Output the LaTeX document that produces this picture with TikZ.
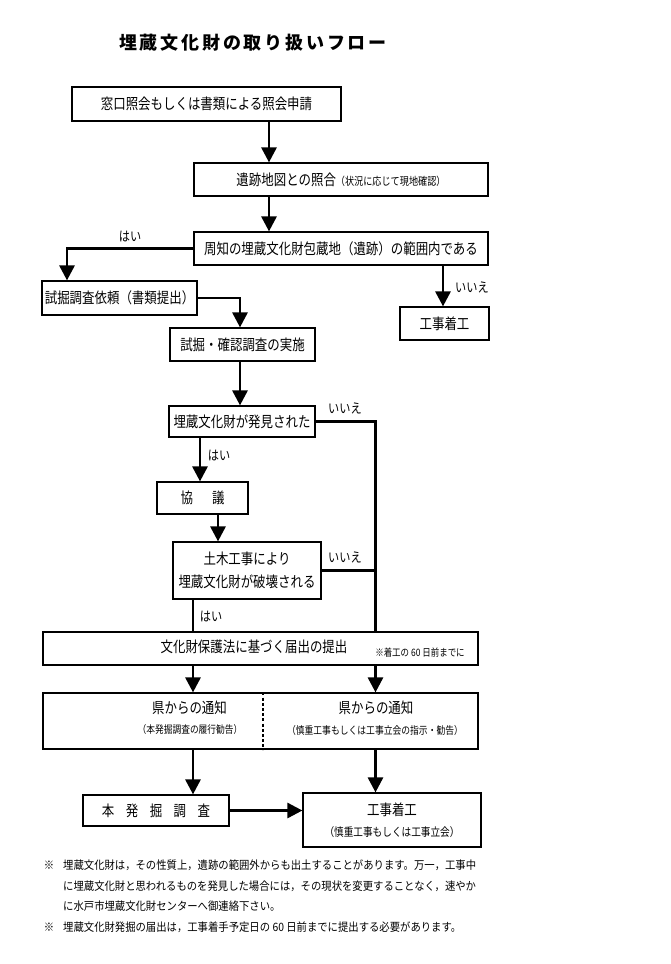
\documentclass[tikz,border=0pt]{standalone}
\usepackage{fontspec}
\setmainfont{Noto Sans CJK JP}[FakeStretch=0.83]
\newfontfamily\notefont{Noto Sans CJK JP}[FakeStretch=0.9]
\newfontfamily\headfont{Noto Sans CJK JP}
\usetikzlibrary{arrows.meta}
\newcommand\fmain{\fontsize{15}{17}\selectfont}
\newcommand\fsmall{\fontsize{11}{13}\selectfont}
\newcommand\fnote{\notefont\fontsize{11.5}{13}\selectfont}
\newcommand\flabel{\fontsize{13.5}{15}\selectfont}
\newcommand\ftitle{\headfont\fontsize{18}{20}\selectfont\bfseries}
\newcommand\tgap{\kern2.8pt}
\begin{document}
\begin{tikzpicture}[x=1pt,y=-1pt,
  box/.style={draw, line width=1.2pt, inner sep=0pt, align=center, font=\fmain},
  conn/.style={line width=2.8pt, line join=miter},
  arr/.style={conn, -{Triangle[width=15pt,length=15pt]}},
  lbl/.style={inner sep=0pt, font=\flabel},
  txt/.style={inner sep=0pt, align=center},
  note/.style={inner sep=0pt, anchor=west, font=\fnote}
]
\useasboundingbox (0,0) rectangle (670,964);
\fill[white] (0,0) rectangle (670,964);

% title
\node[txt, font=\ftitle] (title) at (253,43) {埋\tgap 蔵\tgap 文\tgap 化\tgap 財\tgap の\tgap 取\tgap り\tgap 扱\tgap い\tgap フ\tgap ロ\tgap ー};

% lanes
\coordinate (xa) at (269,0);
\coordinate (xb) at (67,0);
\coordinate (xc) at (443,0);
\coordinate (xd) at (240,0);
\coordinate (xe) at (375.5,0);
\coordinate (xf) at (200,0);
\coordinate (xg) at (218,0);
\coordinate (xh) at (193,0);
\coordinate (xdiv) at (263,0);

% boxes
\node[box, minimum width=269pt, minimum height=34pt] (b1) at (206.5,104) {窓口照会もしくは書類による照会申請};
\node[box, minimum width=294pt, minimum height=33pt] (b2) at (341,179.5) {遺跡地図との照合{\fsmall（状況に応じて現地確認）}};
\node[box, minimum width=294pt, minimum height=33pt] (b3) at (341,248.5) {周知の埋蔵文化財包蔵地（遺跡）の範囲内である};
\node[box, minimum width=155pt, minimum height=34pt] (b4) at (119.5,298) {試掘調査依頼（書類提出）};
\node[box, minimum width=89pt, minimum height=33pt] (bn) at (444.5,323.5) {工事着工};
\node[box, minimum width=145pt, minimum height=33pt] (b5) at (242.5,344.5) {試掘・確認調査の実施};
\node[box, minimum width=146pt, minimum height=31pt] (b6) at (242,421.5) {埋蔵文化財が発見された};
\node[box, minimum width=91pt, minimum height=32pt] (b7) at (202.5,498) {協\hspace{19pt}議};
\node[box, minimum width=148pt, minimum height=57pt, font=\fontsize{15}{23}\selectfont] (b8) at (247,570.5) {土木工事により\\埋蔵文化財が破壊される};
\node[box, minimum width=435pt, minimum height=33pt] (b9) at (260.5,648.5) {};
\node[box, minimum width=435pt, minimum height=56pt] (b10) at (260.5,721) {};
\node[box, minimum width=146pt, minimum height=31pt] (b11) at (156,810.5) {本\hspace{11.5pt}発\hspace{11.5pt}掘\hspace{11.5pt}調\hspace{11.5pt}査};
\node[box, minimum width=178pt, minimum height=54pt, font=\fontsize{15}{21}\selectfont] (b12) at (392,820) {工事着工\\{\fontsize{11.6}{13}\selectfont（慎重工事もしくは工事立会）}};

% texts inside b9, b10
\node[txt, font=\fmain] (t9) at (254,647) {文化財保護法に基づく届出の提出};
\node[txt, font=\fontsize{10.2}{12}\selectfont] (t9n) at (420,653) {※着工の 60 日前までに};
\node[txt, font=\fmain] (t10a) at (189.5,708) {県からの通知};
\node[txt, font=\fontsize{10.5}{12}\selectfont] (t10b) at (190,730) {（本発掘調査の履行勧告）};
\node[txt, font=\fmain] (t10c) at (376,708) {県からの通知};
\node[txt, font=\fontsize{10.6}{12}\selectfont] (t10d) at (375,730) {（慎重工事もしくは工事立会の指示・勧告）};
\draw[line width=1.2pt, dash pattern=on 3pt off 2.2pt] (b10.north -| xdiv) -- (b10.south -| xdiv);

% labels
\node[lbl] (l1) at (130,237) {はい};
\node[lbl] (l2) at (472,287) {いいえ};
\node[lbl] (l3) at (345,408) {いいえ};
\node[lbl] (l4) at (219,456) {はい};
\node[lbl] (l5) at (345,557) {いいえ};
\node[lbl] (l6) at (211,617) {はい};

% connectors
\draw[arr] (b1.south -| xa) -- (b2.north -| xa);
\draw[arr] (b2.south -| xa) -- (b3.north -| xa);
\draw[arr] (b3.west) -- (b3.west -| xb) -- (b4.north -| xb);
\draw[arr] (b3.south -| xc) -- (bn.north -| xc);
\draw[arr] (b4.east) -- (b4.east -| xd) -- (b5.north -| xd);
\draw[arr] (b5.south -| xd) -- (b6.north -| xd);
\draw[conn] (b6.east) -- (b6.east -| xe) -- (b9.north -| xe);
\draw[arr] (b6.south -| xf) -- (b7.north -| xf);
\draw[arr] (b7.south -| xg) -- (b8.north -| xg);
\draw[conn] (b8.east) -- (b8.east -| xe);
\draw[conn] (b8.south -| xh) -- (b9.north -| xh);
\draw[arr] (b9.south -| xh) -- (b10.north -| xh);
\draw[arr] (b9.south -| xe) -- (b10.north -| xe);
\draw[arr] (b10.south -| xh) -- (b11.north -| xh);
\draw[arr] (b10.south -| xe) -- (b12.north -| xe);
\draw[arr] (b11.east) -- (b11.east -| b12.west);

% footnotes
\node[note, anchor=center] (s1) at (49,865) {※};
\node[note] (n1) at (63,865) {埋蔵文化財は，その性質上，遺跡の範囲外からも出土することがあります。万一，工事中};
\node[note] (n2) at (63,886) {に埋蔵文化財と思われるものを発見した場合には，その現状を変更することなく，速やか};
\node[note] (n3) at (63,906) {に水戸市埋蔵文化財センターへ御連絡下さい。};
\node[note, anchor=center] (s2) at (49,927) {※};
\node[note] (n4) at (63,927) {埋蔵文化財発掘の届出は，工事着手予定日の 60 日前までに提出する必要があります。};
\end{tikzpicture}
\end{document}
